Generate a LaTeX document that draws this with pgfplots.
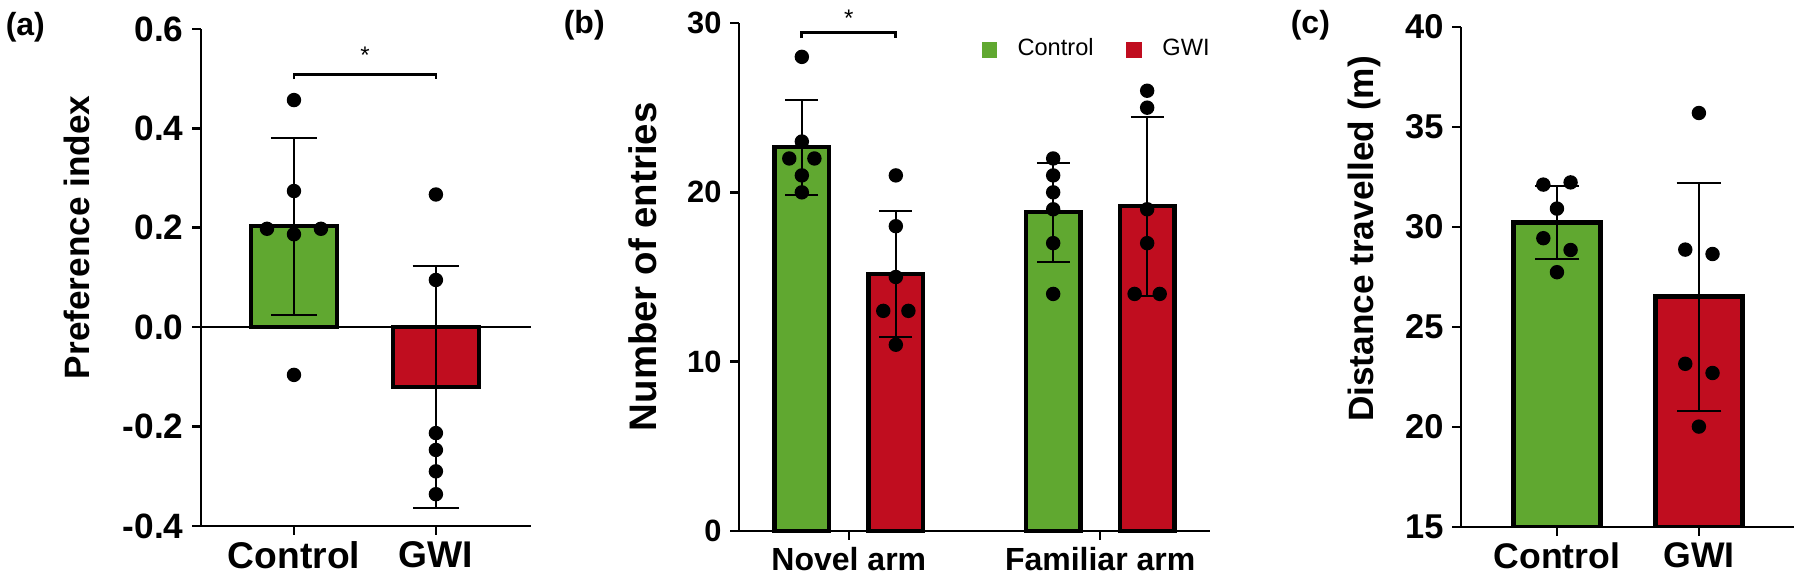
\documentclass[border=0pt]{standalone}
\usepackage{fontspec}
\setmainfont{Liberation Sans}
\usepackage{pgfplots}
\pgfplotsset{compat=1.18}
\definecolor{cgreen}{RGB}{96,168,48}
\definecolor{cred}{RGB}{192,13,31}
\newcommand{\fs}[1]{\fontsize{#1}{#1}\selectfont}
\pgfplotsset{
  panel/.style={
    scale only axis,
    anchor=south west,
    axis x line*=bottom, axis y line*=left,
    axis line style={line width=0.65pt,-},
    tick style={line width=0.65pt,black},
    tick align=outside,
    major tick length=2.2pt,
    /pgf/number format/assume math mode=true,
    xtick={0,1},
    xticklabel style={inner sep=1.6pt},
    yticklabel style={inner sep=2pt},
    ylabel style={anchor=center},
  },
  bar/.style={ybar, bar shift=0pt, draw=black, line width=1.05pt, fill=#1},
  sd/.style={draw=none, mark=none, forget plot,
    error bars/.cd, y dir=both, y explicit,
    error bar style={draw=black, solid, line width=0.5pt},
    error mark options={draw=black, solid, rotate=90, mark size=#1, line width=0.5pt}},
  dots/.style={only marks, mark=*, mark size=1.6pt, black, forget plot},
}
\begin{document}
\begin{tikzpicture}
\useasboundingbox (0,0) rectangle (450pt,144.5pt);
% ---------------- (a) ----------------
\begin{axis}[panel, at={(50.25pt,13pt)}, width=82.5pt, height=124.25pt,
  xmin=-0.655, xmax=1.67, ymin=-0.4, ymax=0.6, clip=false,
  ytick={-0.4,-0.2,0,0.2,0.4,0.6},
  yticklabels={{-0.4},{-0.2},{0.0},{0.2},{0.4},{0.6}},
  xticklabels={Control,GWI},
  xticklabel style={font=\bfseries\fs{9.3}},
  yticklabel style={font=\bfseries\fs{8.8}},
  ylabel={Preference index},
  ylabel style={at={(axis description cs:-0.376,0.581)}, font=\bfseries\fs{8.8}},
]
\addplot[bar=cgreen, bar width=0.61] coordinates {(0,0.203)};
\addplot[bar=cred, bar width=0.61] coordinates {(1,-0.121)};
\addplot[black, line width=0.65pt, forget plot] coordinates {(-0.655,0) (1.67,0)};
\addplot[sd=5.8pt] coordinates {(0,0.203) +- (0,0.178) (1,-0.121) +- (0,0.2435)};
\addplot[dots] coordinates {(0,0.457) (0,0.274) (-0.19,0.198) (0.19,0.198) (0,0.187) (0,-0.096)};
\addplot[dots] coordinates {(1,0.267) (1,0.095) (1,-0.213) (1,-0.247) (1,-0.290) (1,-0.336)};
\addplot[black, line width=0.7pt, forget plot] coordinates {(0,0.499) (0,0.509) (1,0.509) (1,0.499)};
\node[font=\fs{6}] at (axis cs:0.5,0.548) {*};
\end{axis}
\node[anchor=north west, inner sep=0pt, font=\bfseries\fs{8}] at (1.25pt,141.5pt) {(a)};
% ---------------- (b) ----------------
\begin{axis}[panel, at={(184.75pt,11.75pt)}, width=117.75pt, height=127pt,
  xmin=-0.437, xmax=1.437, ymin=0, ymax=30, clip=false,
  ytick={0,10,20,30},
  xticklabels={Novel arm,Familiar arm},
  xticklabel style={font=\bfseries\fs{8}},
  yticklabel style={font=\bfseries\fs{7.7}},
  ylabel={Number of entries},
  ylabel style={at={(axis description cs:-0.204,0.52)}, font=\bfseries\fs{9.6}},
  legend columns=2,
  legend style={draw=none, fill=none, inner sep=0pt, outer sep=0pt,
    at={(axis description cs:0.515,0.947)}, anchor=west,
    font=\fs{5.9}, cells={anchor=west},
    /tikz/every odd column/.append style={column sep=3.2pt},
    /tikz/every even column/.append style={column sep=6.2pt}},
]
\addplot[bar=cgreen, bar width=0.218, forget plot] coordinates {(-0.187,22.67) (0.813,18.83)};
\addplot[bar=cred, bar width=0.218, forget plot] coordinates {(0.187,15.17) (1.187,19.17)};
\addlegendimage{legend image code/.code={\fill[cgreen] (0pt,-1.7pt) rectangle (3.4pt,1.7pt);}}
\addlegendentry{Control}
\addlegendimage{legend image code/.code={\fill[cred] (0pt,-1.7pt) rectangle (3.4pt,1.7pt);}}
\addlegendentry{GWI}
\addplot[sd=4.1pt] coordinates {(-0.187,22.67) +- (0,2.80) (0.187,15.17) +- (0,3.71) (0.813,18.83) +- (0,2.93) (1.187,19.17) +- (0,5.27)};
\addplot[dots] coordinates {(-0.187,28) (-0.187,23) (-0.237,22) (-0.137,22) (-0.187,21) (-0.187,20)};
\addplot[dots] coordinates {(0.187,21) (0.187,18) (0.187,15) (0.137,13) (0.237,13) (0.187,11)};
\addplot[dots] coordinates {(0.813,22) (0.813,21) (0.813,20) (0.813,19) (0.813,17) (0.813,14)};
\addplot[dots] coordinates {(1.187,26) (1.187,25) (1.187,19) (1.187,17) (1.137,14) (1.237,14)};
\addplot[black, line width=0.7pt, forget plot] coordinates {(-0.187,29.1) (-0.187,29.46) (0.187,29.46) (0.187,29.1)};
\node[font=\fs{6}] at (axis cs:0,30.3) {*};
\end{axis}
\node[anchor=north west, inner sep=0pt, font=\bfseries\fs{8}] at (140.75pt,142pt) {(b)};
% ---------------- (c) ----------------
\begin{axis}[panel, at={(365.25pt,12.75pt)}, width=83.25pt, height=125pt,
  xmin=-0.676, xmax=1.67, ymin=15, ymax=40,
  ytick={15,20,25,30,35,40},
  xticklabels={Control,GWI},
  xticklabel style={font=\bfseries\fs{8.9}},
  yticklabel style={font=\bfseries\fs{8.6}},
  ylabel={Distance travelled (m)},
  ylabel style={at={(axis description cs:-0.291,0.576)}, font=\bfseries\fs{8.8}},
]
\addplot[bar=cgreen, bar width=0.613] coordinates {(0,30.22)};
\addplot[bar=cred, bar width=0.613] coordinates {(1,26.52)};
\addplot[sd=5.6pt] coordinates {(0,30.22) +- (0,1.83) (1,26.52) +- (0,5.70)};
\addplot[dots] coordinates {(-0.096,32.12) (0.096,32.23) (0,30.92) (-0.096,29.44) (0.096,28.85) (0,27.74)};
\addplot[dots] coordinates {(1,35.7) (0.904,28.87) (1.096,28.65) (0.904,23.16) (1.096,22.70) (1,20.02)};
\end{axis}
\node[anchor=north west, inner sep=0pt, font=\bfseries\fs{8}] at (322.5pt,142pt) {(c)};
\end{tikzpicture}
\end{document}
